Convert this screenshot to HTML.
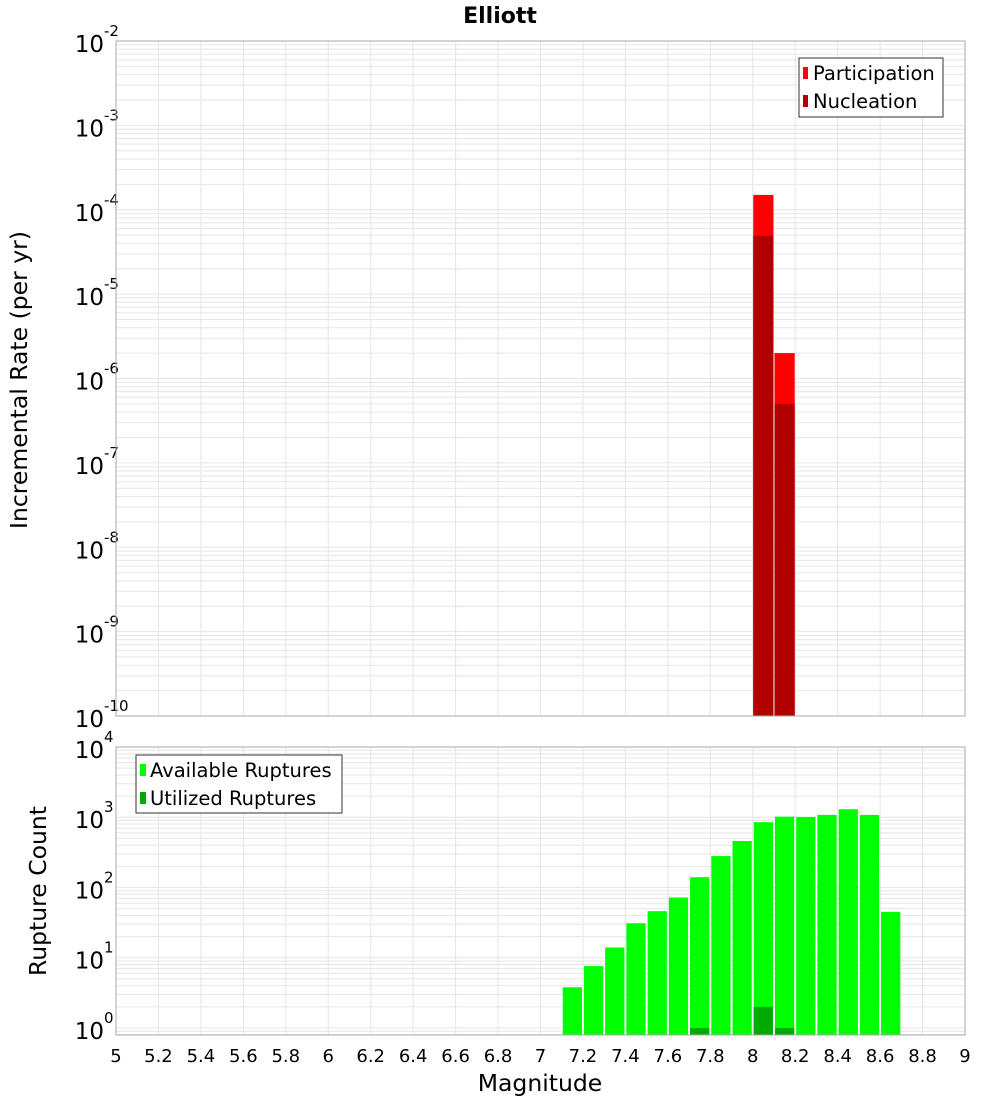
<!DOCTYPE html>
<html><head><meta charset="utf-8"><style>
body{margin:0;background:#fff}
svg{display:block;font-family:"DejaVu Sans","Liberation Sans",sans-serif}
</style></head><body>
<svg id="c" width="1000" height="1100" xmlns="http://www.w3.org/2000/svg">
<text x="500" y="23" text-anchor="middle" font-size="22" font-weight="bold">Elliott</text>
<g id="topPanel"></g>
<g id="botPanel"></g>
<text transform="translate(27,380) rotate(-90)" text-anchor="middle" font-size="23.5">Incremental Rate (per yr)</text>
<text transform="translate(46,891) rotate(-90)" text-anchor="middle" font-size="23.5">Rupture Count</text>
<text x="540" y="1091" text-anchor="middle" font-size="23.5">Magnitude</text>
<g id="legends"></g>
</svg>
<script>
const binCenters=[7.15,7.25,7.35,7.45,7.55,7.65,7.75,7.85,7.95,8.05,8.15,8.25,8.35,8.45,8.55,8.65];
const availableCounts=[3.8,7.6,14,31,46,72,140,280,460,850,1020,1010,1080,1300,1080,45];
const utilizedCounts=[0,0,0,0,0,0,1,0,0,2,1,0,0,0,0,0];
const rateMags=[8.05,8.15];
const participationRates=[1.5e-4,2.0e-6];
const nucleationRates=[4.9e-5,5.0e-7];
const xTicks=[5,5.2,5.4,5.6,5.8,6,6.2,6.4,6.6,6.8,7,7.2,7.4,7.6,7.8,8,8.2,8.4,8.6,8.8,9];
const topExps=[-2,-3,-4,-5,-6,-7,-8,-9,-10];
const botExps=[0,1,2,3,4];

const NS="http://www.w3.org/2000/svg";
function el(p,t,a){const e=document.createElementNS(NS,t);for(const k in a)e.setAttribute(k,a[k]);p.appendChild(e);return e;}
const X0=116,X1=965;
const xs=m=>X0+(m-5)/4*(X1-X0);
const bw=(X1-X0)/40;

function panel(g,Y0,Y1,lmin,lmax,exps){
  const ys=v=>Y1-(Math.log10(v)-lmin)/(lmax-lmin)*(Y1-Y0);
  el(g,'rect',{x:X0,y:Y0,width:X1-X0,height:Y1-Y0,fill:'#fff'});
  for(let d=Math.floor(lmin);d<lmax;d++)for(let k=1;k<10;k++){const v=k*Math.pow(10,d);const l=Math.log10(v);if(l<lmin||l>lmax)continue;
    const y=ys(v);const ln=el(g,'line',{x1:X0,x2:X1,y1:y,y2:y,stroke:'#e6e6e6','stroke-width':1});
    
    }
  xTicks.forEach(t=>{const x=xs(t);const ln=el(g,'line',{x1:x,x2:x,y1:Y0,y2:Y1,stroke:'#e6e6e6','stroke-width':1});
    
    });
  exps.forEach(e=>{const y=ys(Math.pow(10,e));
    const t=el(g,'text',{x:104,y:y+11,'text-anchor':'end','font-size':23});
    
    
    t.textContent='10';
    const s=el(g,'text',{x:104,y:y-5,'font-size':15});
    
    
    s.textContent=String(e);});
  return ys;
}
const topG=document.getElementById('topPanel'),botG=document.getElementById('botPanel');
const ysT=panel(topG,41,716,-10,-2,topExps);
rateMags.forEach((m,i)=>{
  const x=xs(m)-bw/2+0.5,w=bw-1;
  const yp=ysT(participationRates[i]);
  const r=el(topG,'rect',{x:x,y:yp,width:w,height:716-yp,fill:'#ff0000'});
  
  
  const yn=ysT(nucleationRates[i]);
  const r2=el(topG,'rect',{x:x,y:yn,width:w,height:716-yn,fill:'#b00000'});
  
  
});
el(topG,'rect',{x:X0,y:41,width:X1-X0,height:675,fill:'none',stroke:'#aaa'});
const ysB=panel(botG,747,1035,-0.1,4,botExps);
binCenters.forEach((m,i)=>{
  const x=xs(m)-bw/2+1,w=bw-2;
  const ya=ysB(availableCounts[i]);
  const r=el(botG,'rect',{x:x,y:ya,width:w,height:1035-ya,fill:'#00ff00'});
  
  
  if(utilizedCounts[i]>0){const yu=ysB(utilizedCounts[i]);
    const r2=el(botG,'rect',{x:x,y:yu,width:w,height:1035-yu,fill:'#00aa00'});
    
    }
});
el(botG,'rect',{x:X0,y:747,width:X1-X0,height:288,fill:'none',stroke:'#aaa'});
xTicks.forEach(t=>{const tx=el(botG,'text',{x:xs(t),y:1062,'text-anchor':'middle','font-size':18});
  
  
  tx.textContent=String(t);});
</script>
<svg width="1000" height="1100" style="position:absolute;left:0;top:0" xmlns="http://www.w3.org/2000/svg" font-family="DejaVu Sans, Liberation Sans, sans-serif">
<g>
<rect x="799" y="58" width="144" height="59" fill="#fff" stroke="#333"/>
<rect x="803" y="67" width="5" height="12" fill="#ff0000"/>
<text x="813" y="80" font-size="19.5">Participation</text>
<rect x="803" y="95" width="5" height="12" fill="#b00000"/>
<text x="813" y="108" font-size="19.5">Nucleation</text>
</g>
<g>
<rect x="136" y="755" width="206" height="58" fill="#fff" stroke="#333"/>
<rect x="140" y="764" width="6" height="12" fill="#00ff00"/>
<text x="150" y="777" font-size="19.5">Available Ruptures</text>
<rect x="140" y="792" width="6" height="12" fill="#00aa00"/>
<text x="150" y="805" font-size="19.5">Utilized Ruptures</text>
</g>
</svg>
</body></html>
